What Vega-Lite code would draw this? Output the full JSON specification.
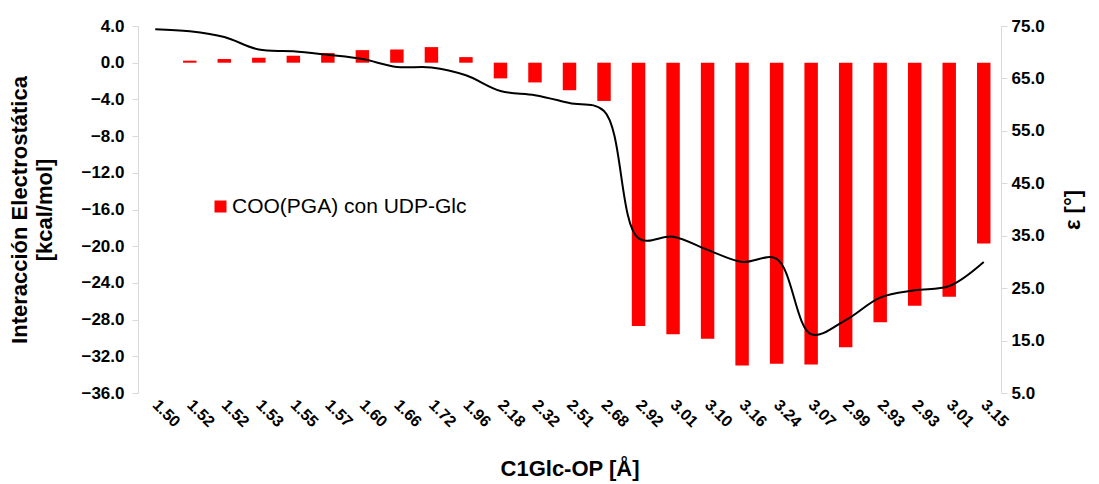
{
  "$schema": "https://vega.github.io/schema/vega-lite/v6.json",
  "width": 863,
  "height": 367,
  "autosize": "none",
  "padding": {"left": 138, "top": 26, "right": 98, "bottom": 91},
  "background": "white",
  "config": {
    "view": {"stroke": null},
    "font": "Liberation Sans",
    "axis": {"grid": false, "labelFont": "Liberation Sans", "titleFont": "Liberation Sans", "labelColor": "#000000", "titleColor": "#000000", "labelOverlap": false}
  },
  "data": {
    "values": [
      {"key": "01_1.50", "interaccion": 0.0, "epsilon": 74.4},
      {"key": "02_1.52", "interaccion": 0.22, "epsilon": 74.0},
      {"key": "03_1.52", "interaccion": 0.40, "epsilon": 72.9},
      {"key": "04_1.53", "interaccion": 0.54, "epsilon": 70.5},
      {"key": "05_1.55", "interaccion": 0.76, "epsilon": 70.2},
      {"key": "06_1.57", "interaccion": 1.05, "epsilon": 69.5},
      {"key": "07_1.60", "interaccion": 1.37, "epsilon": 68.7},
      {"key": "08_1.66", "interaccion": 1.45, "epsilon": 67.2},
      {"key": "09_1.72", "interaccion": 1.70, "epsilon": 67.1},
      {"key": "10_1.96", "interaccion": 0.61, "epsilon": 65.6},
      {"key": "11_2.18", "interaccion": -1.71, "epsilon": 62.6},
      {"key": "12_2.32", "interaccion": -2.15, "epsilon": 61.8},
      {"key": "13_2.51", "interaccion": -3.0, "epsilon": 60.3},
      {"key": "14_2.68", "interaccion": -4.17, "epsilon": 58.8},
      {"key": "15_2.92", "interaccion": -28.7, "epsilon": 34.5},
      {"key": "16_3.01", "interaccion": -29.6, "epsilon": 34.8},
      {"key": "17_3.10", "interaccion": -30.1, "epsilon": 32.3},
      {"key": "18_3.16", "interaccion": -33.0, "epsilon": 30.0},
      {"key": "19_3.24", "interaccion": -32.8, "epsilon": 30.6},
      {"key": "20_3.07", "interaccion": -32.9, "epsilon": 16.2},
      {"key": "21_2.99", "interaccion": -31.0, "epsilon": 18.9},
      {"key": "22_2.93", "interaccion": -28.3, "epsilon": 23.2},
      {"key": "23_2.93", "interaccion": -26.5, "epsilon": 24.6},
      {"key": "24_3.01", "interaccion": -25.5, "epsilon": 25.4},
      {"key": "25_3.15", "interaccion": -19.7, "epsilon": 30.0}
    ]
  },
  "encoding": {
    "x": {
      "field": "key",
      "type": "ordinal",
      "sort": "ascending",
      "scale": {"paddingInner": 0.61, "paddingOuter": 0.305},
      "axis": {
        "title": "C1Glc-OP [Å]",
        "titleFontSize": 22,
        "titleFontWeight": "bold",
        "titlePadding": 29,
        "labelExpr": "substring(datum.value, 3)",
        "labelAngle": 45,
        "labelAlign": "left",
        "labelBaseline": "middle",
        "labelFontSize": 16,
        "labelFontWeight": "bold",
        "labelPadding": 9,
        "domain": false,
        "ticks": false
      }
    }
  },
  "layer": [
    {
      "mark": {"type": "bar", "color": "#ff0000"},
      "encoding": {
        "y": {
          "field": "interaccion",
          "type": "quantitative",
          "scale": {"domain": [-36, 4], "nice": false, "zero": false},
          "axis": {
            "orient": "left",
            "values": [-36, -32, -28, -24, -20, -16, -12, -8, -4, 0, 4],
            "format": ".1f",
            "labelOverlap": false,
            "title": ["Interacción Electrostática", "[kcal/mol]"],
            "titleFontSize": 22,
            "titleFontWeight": "bold",
            "titleLineHeight": 25,
            "titlePadding": 24,
            "labelFontSize": 17,
            "labelFontWeight": "bold",
            "labelPadding": 8,
            "tickSize": 6,
            "tickColor": "#d9d9d9",
            "domainColor": "#d9d9d9"
          }
        },
        "color": {
          "datum": "COO(PGA) con UDP-Glc",
          "type": "nominal",
          "scale": {"range": ["#ff0000"]},
          "legend": {
            "title": null,
            "orient": "none",
            "legendX": 72,
            "legendY": 170,
            "padding": 0,
            "symbolType": "square",
            "symbolSize": 144,
            "symbolStrokeWidth": 0,
            "labelFont": "Liberation Sans",
            "labelFontSize": 21,
            "labelColor": "#000000",
            "labelOffset": 1,
            "labelLimit": 0
          }
        }
      }
    },
    {
      "mark": {"type": "rule", "color": "#868686", "strokeWidth": 1.2},
      "encoding": {
        "y": {"datum": 0, "type": "quantitative", "scale": {"domain": [-36, 4], "nice": false, "zero": false}, "axis": null}
      }
    },
    {
      "mark": {"type": "line", "color": "#000000", "strokeWidth": 2, "interpolate": "catmull-rom"},
      "encoding": {
        "y": {
          "field": "epsilon",
          "type": "quantitative",
          "scale": {"domain": [5, 75], "nice": false, "zero": false},
          "axis": {
            "orient": "right",
            "values": [5, 15, 25, 35, 45, 55, 65, 75],
            "format": ".1f",
            "labelOverlap": false,
            "title": "ε [°]",
            "titleAngle": -90,
            "titleFontSize": 22,
            "titleFontWeight": "bold",
            "titlePadding": 40,
            "labelFontSize": 17,
            "labelFontWeight": "bold",
            "labelPadding": 4,
            "tickSize": 6,
            "tickColor": "#d9d9d9",
            "domainColor": "#d9d9d9"
          }
        }
      }
    }
  ],
  "resolve": {"scale": {"y": "independent"}}
}
